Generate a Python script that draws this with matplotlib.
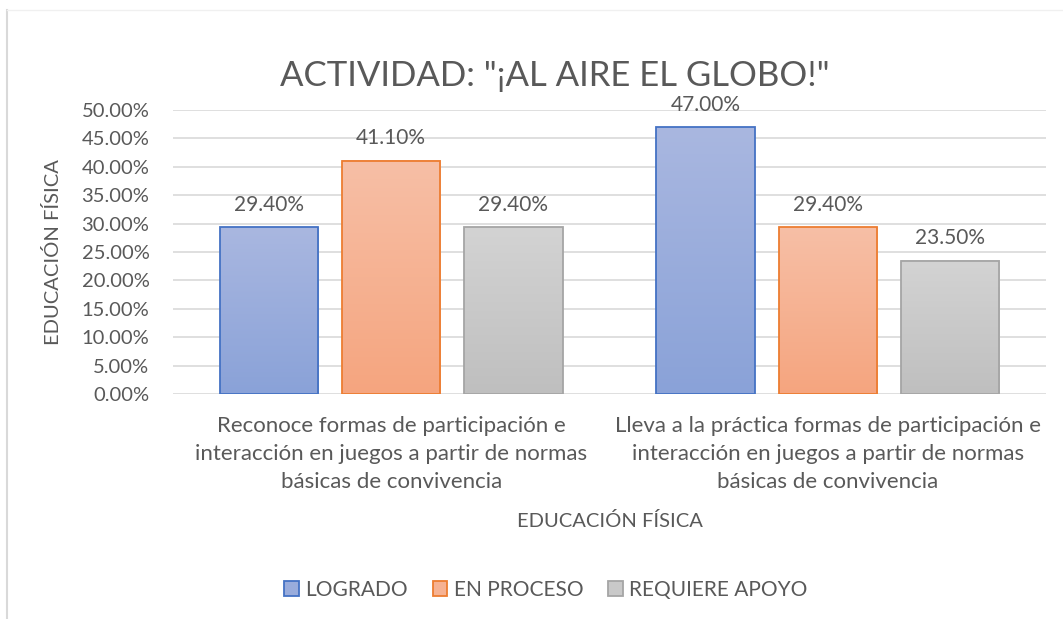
import numpy as np
import matplotlib
matplotlib.use("Agg")
from matplotlib import pyplot as plt
from matplotlib.ticker import PercentFormatter
from matplotlib.patches import Patch
from matplotlib.lines import Line2D
from matplotlib.colors import LinearSegmentedColormap

# data
categories = ["Reconoce formas de participación e\ninteracción en juegos a partir de normas\nbásicas de convivencia",
              "Lleva a la práctica formas de participación e\ninteracción en juegos a partir de normas\nbásicas de convivencia"]
series = ["LOGRADO", "EN PROCESO", "REQUIERE APOYO"]
logrado = [29.4, 47.0]
en_proceso = [41.1, 29.4]
requiere_apoyo = [29.4, 23.5]

edge_colors = ["#4472C4", "#ED7D31", "#A5A5A5"]
grad_top = ["#A9B7E0", "#F7BFA6", "#D3D3D3"]
grad_bot = ["#8AA2D8", "#F5A57F", "#BFBFBF"]
mid_col = ["#99ACDC", "#F6B293", "#C9C9C9"]

txt = "#595959"
plt.rcParams['font.family'] = ['Lato', 'DejaVu Sans']

fig = plt.figure(figsize=(10.63, 6.19), dpi=100)
ax = fig.add_axes([173/1063, 1-394/619, (1046-173)/1063, (394-110)/619])

x = np.arange(len(categories))
width = 0.225
offsets = [-0.28, 0, 0.28]
values = [logrado, en_proceso, requiere_apoyo]

for i, vals in enumerate(values):
    bars = ax.bar(x + offsets[i], vals, width, facecolor="none",
                  edgecolor=edge_colors[i], linewidth=1.3, zorder=3)
    cmap = LinearSegmentedColormap.from_list("g%d" % i, [grad_bot[i], grad_top[i]])
    for b, v in zip(bars, vals):
        x0 = b.get_x()
        grad = np.linspace(0, 1, 100).reshape(-1, 1)
        ax.imshow(grad, cmap=cmap, origin="lower", aspect="auto",
                  extent=[x0, x0 + b.get_width(), 0, v], zorder=2)
        ax.text(b.get_x() + b.get_width()/2, v + 2.2, "%.2f%%" % v,
                ha="center", va="bottom", fontsize=15, color=txt)

ax.set_xlim(-0.5, 1.5)
ax.set_ylim(0, 50)
ax.set_yticks(np.arange(0, 51, 5))
ax.yaxis.set_major_formatter(PercentFormatter(decimals=2))
ax.grid(axis="y", color="#D9D9D9", linewidth=1.2, zorder=0)
ax.set_axisbelow(True)
for s in ax.spines.values():
    s.set_visible(False)
ax.tick_params(axis="both", length=0, labelsize=14.5, labelcolor=txt)
ax.tick_params(axis="y", pad=17)
ax.set_xticks(x)
ax.set_xticklabels(categories, fontsize=16, color=txt, linespacing=1.5)
ax.tick_params(axis="x", pad=16)

ax.set_xlabel("EDUCACIÓN FÍSICA", fontsize=14.5, color=txt, labelpad=14)
ax.set_ylabel("EDUCACIÓN FÍSICA", fontsize=14.5, color=txt)
ax.yaxis.set_label_coords(-0.127, 0.5)
fig.text(555/1063, 1-76/619, 'ACTIVIDAD: "¡AL AIRE EL GLOBO!"', fontsize=25,
         color=txt, ha="center", va="center")

handles = [Patch(facecolor=mid_col[i], edgecolor=edge_colors[i], linewidth=1.3) for i in range(3)]
fig.legend(handles, series, loc="center", bbox_to_anchor=(546/1063, 1-590/619),
           ncol=3, frameon=False, fontsize=15, labelcolor=txt,
           handlelength=0.7, handleheight=0.7, handletextpad=0.3, columnspacing=1.2)

# chart frame edges visible in the crop
fig.add_artist(Line2D([7/1063, 7/1063], [0, 1-10/619], color="#D9D9D9", linewidth=1.5))
fig.add_artist(Line2D([7/1063, 1], [1-10/619, 1-10/619], color="#F0F0F0", linewidth=1))

fig.savefig("out.png", dpi=100)
